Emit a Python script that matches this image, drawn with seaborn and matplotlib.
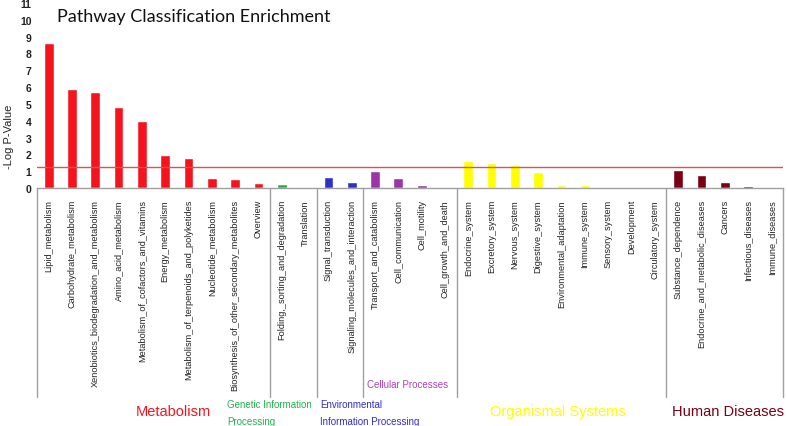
import matplotlib
matplotlib.use("Agg")
import matplotlib.pyplot as plt
import seaborn as sns
import pandas as pd

categories = ["Lipid_metabolism", "Carbohydrate_metabolism", "Xenobiotics_biodegradation_and_metabolism",
              "Amino_acid_metabolism", "Metabolism_of_cofactors_and_vitamins", "Energy_metabolism",
              "Metabolism_of_terpenoids_and_polyketides", "Nucleotide_metabolism",
              "Biosynthesis_of_other_secondary_metabolites", "Overview",
              "Folding,_sorting_and_degradation", "Translation",
              "Signal_transduction", "Signaling_molecules_and_interaction",
              "Transport_and_catabolism", "Cell_communication", "Cell_motility", "Cell_growth_and_death",
              "Endocrine_system", "Excretory_system", "Nervous_system", "Digestive_system",
              "Environmental_adaptation", "Immune_system", "Sensory_system", "Development",
              "Circulatory_system",
              "Substance_dependence", "Endocrine_and_metabolic_diseases", "Cancers",
              "Infectious_diseases", "Immune_diseases"]
values = [8.65, 5.87, 5.7, 4.82, 3.97, 1.95, 1.8, 0.6, 0.56, 0.3,
          0.24, 0.0,
          0.64, 0.35,
          1.03, 0.6, 0.16, 0.0,
          1.6, 1.5, 1.39, 0.95, 0.2, 0.2, 0.07, 0.07, 0.07,
          1.05, 0.75, 0.36, 0.12, 0.0]
groups = (["Metabolism"] * 10 + ["Genetic Information Processing"] * 2 +
          ["Environmental Information Processing"] * 2 + ["Cellular Processes"] * 4 +
          ["Organismal Systems"] * 9 + ["Human Diseases"] * 5)
group_colors = {"Metabolism": "#F5141E", "Genetic Information Processing": "#22B14C",
                "Environmental Information Processing": "#3030C8", "Cellular Processes": "#9A36A8",
                "Organismal Systems": "#FFFF00", "Human Diseases": "#7A0014"}
threshold = 1.22
yticks = list(range(0, 12))

df = pd.DataFrame({"category": categories, "value": values, "group": groups})

sns.set_style("white")
plt.rcParams["font.family"] = ["Liberation Sans", "DejaVu Sans"]

fig = plt.figure(figsize=(7.87, 4.27), dpi=100)
ax = fig.add_axes([37 / 787, 1 - 189 / 427, (783 - 37) / 787, 185 / 427])

sns.barplot(data=df, x="category", y="value", hue="group", palette=group_colors,
            dodge=False, width=0.42, legend=False, ax=ax, saturation=1)

ax.set_xlim(-0.5, len(categories) - 0.5)
ax.set_ylim(0, 11)
ax.set_yticks(yticks)
ax.tick_params(axis="y", length=0, pad=4, labelsize=7.5, labelcolor="#222222")
ax.tick_params(axis="x", length=0, pad=8, labelsize=6.6, labelcolor="#222222")
plt.setp(ax.get_xticklabels(), rotation=90, va="top", ha="center")
plt.setp(ax.get_yticklabels(), fontweight="bold")
ax.set_xlabel("")
ax.set_ylabel("-Log P-Value", fontsize=8, color="#222222")
ax.yaxis.set_label_coords(-0.031, 0.28)

for s in ["top", "right", "left"]:
    ax.spines[s].set_visible(False)
ax.spines["bottom"].set_color("#A0A0A0")
ax.spines["bottom"].set_linewidth(1)

ax.axhline(threshold, color="#E05050", lw=1)

# group separators
bounds = [-0.5, 9.5, 11.5, 13.5, 17.5, 26.5, 31.5]
for b in bounds:
    ax.plot([b, b], [0, -1.13], transform=ax.get_xaxis_transform(), color="#A0A0A0",
            lw=1, clip_on=False)

xt = ax.get_xaxis_transform()
ax.text(5.35, -1.205, "Metabolism", color="#F5141E", fontsize=10.5, ha="center", va="center", transform=xt)
ax.text(7.66, -1.213, "Genetic Information\n\nProcessing", color="#22B14C", fontsize=7, ha="left", va="center",
        transform=xt, linespacing=0.8)
ax.text(11.66, -1.213, "Environmental\n\nInformation Processing", color="#3030C8", fontsize=7, ha="left",
        va="center", transform=xt, linespacing=0.8)
ax.text(13.67, -1.059, "Cellular Processes", color="#B040B8", fontsize=7, ha="left", va="center", transform=xt)
ax.text(21.83, -1.205, "Organismal Systems", color="#FFFF00", fontsize=10.5, ha="center", va="center", transform=xt)
ax.text(29.13, -1.205, "Human Diseases", color="#7A0014", fontsize=10.5, ha="center", va="center", transform=xt)

fig.text(57 / 787, 1 - 17 / 427, "Pathway Classification Enrichment", fontsize=13,
         family=["Lato", "DejaVu Sans"], ha="left", va="center", color="#111111")

fig.savefig("out.png", dpi=100)
